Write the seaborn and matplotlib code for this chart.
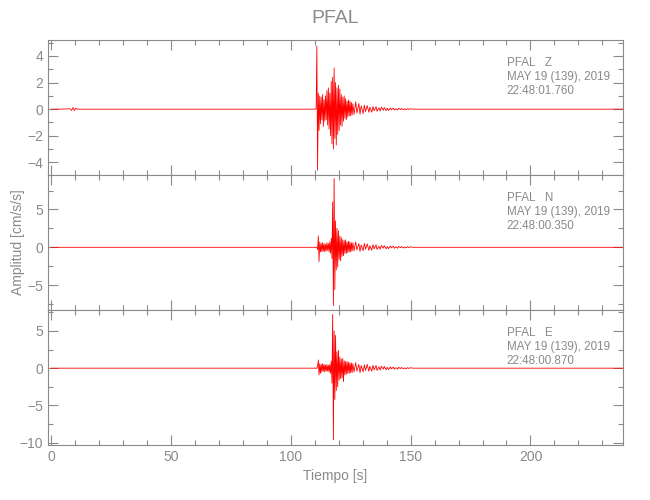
import pandas as pd
import matplotlib
matplotlib.use('Agg')
import matplotlib.pyplot as plt
import seaborn as sns
from matplotlib.ticker import MultipleLocator

sns.set_style('ticks')
plt.rcParams['font.family'] = ['Liberation Sans', 'DejaVu Sans']

GRIS = '#8a8a8a'

t_pre = [0.0, 4.0, 8.0, 8.6, 9.2, 9.8, 10.4, 11.0, 109.7]
t_evt = [110.0, 110.3, 110.6, 110.9, 111.2, 111.5, 111.8, 112.1, 112.4, 112.7,
         113.0, 113.3, 113.6, 113.9, 114.2, 114.5, 114.8, 115.1, 115.4, 115.7,
         116.0, 116.3, 116.6, 116.9, 117.2, 117.5, 117.8, 118.1, 118.4, 118.7,
         119.0, 119.3, 119.6, 119.9, 120.2, 120.5, 120.8, 121.1, 121.4, 121.7,
         122.0, 122.3, 122.6, 122.9, 123.2, 123.5, 123.8, 124.1, 124.4, 124.7,
         125.0, 125.3, 125.6, 125.9, 126.4, 127.1, 127.6, 128.4, 128.9, 129.4,
         130.2, 130.7, 131.2, 131.9, 132.6, 133.0, 133.8, 134.3, 134.8, 135.6,
         136.0, 136.8, 137.3, 137.8, 138.6, 139.0, 139.8, 140.3, 140.8, 141.6,
         142.0, 142.8, 143.2, 143.9, 144.6, 145.0, 145.8, 146.2, 147.0, 147.5,
         148.0, 148.8, 149.2, 149.9]
t_post = [151.0, 240.0]

# amplitudes (cm/s/s)
z_pre = [0.0, 0.0, 0.03, -0.1, 0.12, -0.1, 0.08, 0.0, 0.0]
z_evt = [0.02, -0.02, 0.03, 4.75, -4.6, 1.2, -1.6, 1.0, -1.1, 0.9,
         -0.8, 1.1, -1.3, 0.7, -0.9, 1.0, -0.8, 1.4, -1.2, 1.6,
         -1.5, 1.2, -2.0, 2.1, -2.6, 2.4, -3.0, 3.1, -2.2, 2.0,
         -2.7, 1.6, -1.9, 1.8, -1.6, 1.5, -1.2, 1.1, -1.3, 0.9,
         -0.9, 1.0, -0.7, 0.8, -0.8, 0.6, -0.6, 0.7, -0.5, 0.6,
         -0.5, 0.5, -0.45, 0.4, -0.4, 0.55, -0.3, 0.42, -0.38, 0.25,
         -0.33, 0.3, -0.18, 0.27, -0.24, 0.15, -0.22, 0.2, -0.12, 0.19,
         -0.16, 0.1, -0.14, 0.15, -0.08, 0.12, -0.11, 0.07, -0.1, 0.09,
         -0.05, 0.08, -0.07, 0.04, -0.06, 0.06, -0.03, 0.05, -0.05, 0.03,
         -0.04, 0.04, -0.02, 0.03]
z_post = [0.0, 0.0]

n_pre = [0.0, 0.0, 0.0, 0.0, 0.0, 0.0, 0.0, 0.0, 0.0]
n_evt = [0.03, -0.03, 0.04, -0.04, -0.3, 1.5, -1.9, 0.7, -0.6, 0.5,
         -0.6, 0.6, -0.5, 0.5, -0.6, 0.4, -0.5, 0.6, -0.4, 0.5,
         -0.6, 0.7, -0.8, 1.2, -1.5, 6.0, -7.7, 9.1, -5.6, 3.5,
         -3.0, 2.5, -2.6, 2.2, -1.6, 1.5, -1.8, 1.3, -1.2, 1.0,
         -1.1, 0.9, -0.8, 1.0, -0.8, 0.7, -0.7, 0.8, -0.6, 0.7,
         -0.6, 0.6, -0.5, 0.6, -0.45, 0.7, -0.35, 0.5, -0.55, 0.3,
         -0.45, 0.5, -0.25, 0.45, -0.4, 0.22, -0.38, 0.35, -0.2, 0.33,
         -0.28, 0.15, -0.25, 0.25, -0.12, 0.22, -0.2, 0.1, -0.18, 0.16,
         -0.08, 0.15, -0.13, 0.07, -0.12, 0.11, -0.05, 0.1, -0.09, 0.05,
         -0.08, 0.07, -0.04, 0.06]
n_post = [0.0, 0.0]

e_pre = [0.0, 0.0, 0.0, 0.0, 0.0, 0.0, 0.0, 0.0, 0.0]
e_evt = [0.03, -0.03, 0.04, -0.04, 0.3, 1.1, -0.9, 0.6, -0.7, 0.5,
         -0.5, 0.6, -0.4, 0.5, -0.5, 0.4, -0.4, 0.5, -0.4, 0.4,
         -0.5, 0.5, -0.7, 0.9, -2.0, 7.2, -9.6, 5.0, -4.2, 4.4,
         -3.0, 2.2, -2.5, 2.4, -1.6, 1.5, -1.4, 1.2, -1.3, 1.3,
         -1.8, 1.0, -0.9, 0.9, -0.8, 0.9, -0.7, 0.8, -0.7, 0.7,
         -0.6, 0.7, -0.6, 0.6, -0.5, 0.75, -0.4, 0.5, -0.6, 0.35,
         -0.5, 0.45, -0.3, 0.5, -0.42, 0.25, -0.4, 0.38, -0.22, 0.35,
         -0.3, 0.18, -0.27, 0.26, -0.13, 0.24, -0.2, 0.12, -0.19, 0.17,
         -0.09, 0.15, -0.14, 0.08, -0.13, 0.11, -0.06, 0.1, -0.09, 0.05,
         -0.08, 0.07, -0.04, 0.06]
e_post = [0.0, 0.0]

componentes = ['Z', 'N', 'E']
horas = ['22:48:01.760', '22:48:00.350', '22:48:00.870']
amplitudes = [z_pre + z_evt + z_post, n_pre + n_evt + n_post, e_pre + e_evt + e_post]
tiempos = t_pre + t_evt + t_post

limites_y = [(-4.95, 5.2), (-8.28, 9.55), (-10.3, 7.8)]
ticks_y = [(2, 1), (5, 2.5), (5, 2.5)]

fig = plt.figure(figsize=(6.5, 5), dpi=100)
abajo = [0.65, 0.38, 0.11]

for i, comp in enumerate(componentes):
    ax = fig.add_axes([48 / 650, abajo[i], 575 / 650, 0.27])
    df = pd.DataFrame({'t': tiempos, 'a': amplitudes[i]})
    sns.lineplot(data=df, x='t', y='a', ax=ax, color='red', lw=0.6,
                 sort=False, estimator=None)
    ax.set_xlim(-1.25, 238.6)
    ax.set_ylim(*limites_y[i])
    ax.xaxis.set_major_locator(MultipleLocator(50))
    ax.xaxis.set_minor_locator(MultipleLocator(10))
    ax.yaxis.set_major_locator(MultipleLocator(ticks_y[i][0]))
    ax.yaxis.set_minor_locator(MultipleLocator(ticks_y[i][1]))
    ax.tick_params(which='both', direction='in', top=True, right=True,
                   color=GRIS, labelcolor=GRIS, labelsize=10, width=0.8)
    ax.tick_params(which='major', length=7)
    ax.tick_params(which='minor', length=3.5)
    for s in ax.spines.values():
        s.set_color(GRIS)
        s.set_linewidth(0.8)
    ax.set_xlabel('')
    ax.set_ylabel('')
    if i < 2:
        ax.set_xticklabels([])
    else:
        ax.set_xlabel('Tiempo [s]', color=GRIS, fontsize=10)
    if i == 1:
        ax.set_ylabel('Amplitud [cm/s/s]', color=GRIS, fontsize=10)
        ax.yaxis.set_label_coords(-0.04, 0.5)
    lineas = ['PFAL   ' + comp, 'MAY 19 (139), 2019', horas[i]]
    for j, txt in enumerate(lineas):
        ax.text(0.798, 0.876 - j * 0.104, txt, transform=ax.transAxes,
                ha='left', va='top', color=GRIS, fontsize=8.4)

fig.text(0.515, 0.963, 'PFAL', ha='center', va='center', color=GRIS, fontsize=14)

plt.savefig('out.png', dpi=100)
